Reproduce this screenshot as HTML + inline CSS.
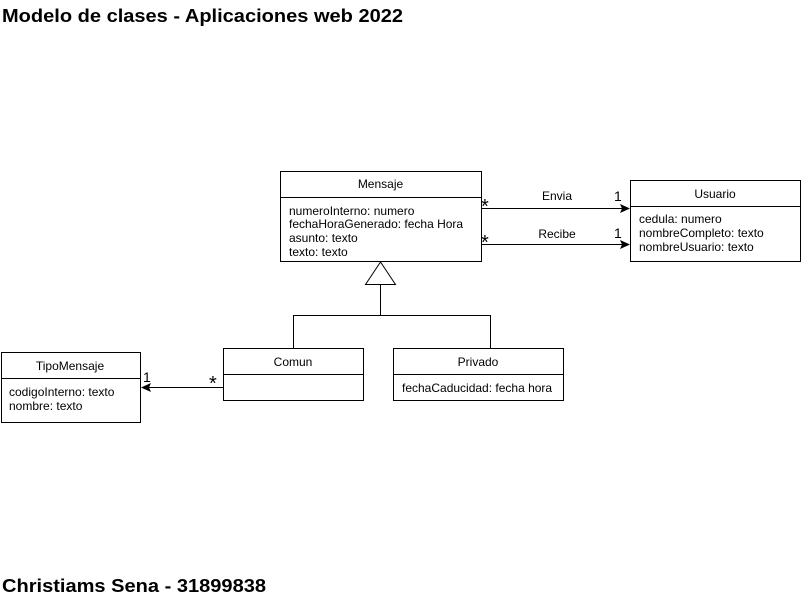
<!DOCTYPE html>
<html><head><meta charset="utf-8"><style>
html,body{margin:0;padding:0;background:#fff;width:801px;height:601px;overflow:hidden}
svg{display:block}
text{font-family:"Liberation Sans",Arial,sans-serif;fill:#000}
.s{font-size:12px}
.b{font-size:18px;font-weight:bold}
</style></head><body>
<svg width="801" height="601" viewBox="0 0 801 601">
<text class="b" x="2" y="22" textLength="401" lengthAdjust="spacingAndGlyphs">Modelo de clases - Aplicaciones web 2022</text>
<text class="b" x="2" y="592" textLength="264" lengthAdjust="spacingAndGlyphs">Christiams Sena - 31899838</text>
<g fill="#fff" stroke="#000" stroke-width="1">
<rect x="280.5" y="171.5" width="201" height="90"/>
<line x1="280" y1="197.5" x2="481" y2="197.5"/>
<rect x="630.5" y="180.5" width="170" height="81"/>
<line x1="630" y1="206.5" x2="800" y2="206.5"/>
<rect x="223.5" y="348.5" width="140" height="52"/>
<line x1="223" y1="374.5" x2="363" y2="374.5"/>
<rect x="393.5" y="348.5" width="170" height="52"/>
<line x1="393" y1="374.5" x2="563" y2="374.5"/>
<rect x="1.5" y="352.5" width="139" height="70"/>
<line x1="1" y1="378.5" x2="140" y2="378.5"/>
<polyline fill="none" points="380.5,285 380.5,315.5 293.5,315.5 293.5,348"/>
<polyline fill="none" points="380.5,315.5 490.5,315.5 490.5,348"/>
<polygon points="380.5,262 365.5,284.5 395.5,284.5"/>
<line x1="481" y1="208.5" x2="622" y2="208.5"/>
<line x1="481" y1="244.5" x2="622" y2="244.5"/>
<line x1="223" y1="387.5" x2="148" y2="387.5"/>
</g>
<polygon points="630,208.5 620,204 622,208.5 620,213"/>
<polygon points="630,244.5 620,240 622,244.5 620,249"/>
<polygon points="141,387.5 151,383 149,387.5 151,392"/>
<g class="s">
<text x="380.5" y="188" text-anchor="middle">Mensaje</text>
<text x="289" y="215">numeroInterno: numero</text>
<text x="289" y="228">fechaHoraGenerado: fecha Hora</text>
<text x="289" y="242">asunto: texto</text>
<text x="289" y="256">texto: texto</text>
<text x="715" y="198" text-anchor="middle">Usuario</text>
<text x="639" y="223">cedula: numero</text>
<text x="639" y="237">nombreCompleto: texto</text>
<text x="639" y="251">nombreUsuario: texto</text>
<text x="293" y="366" text-anchor="middle">Comun</text>
<text x="478" y="366" text-anchor="middle">Privado</text>
<text x="402" y="392">fechaCaducidad: fecha hora</text>
<text x="70" y="370" text-anchor="middle">TipoMensaje</text>
<text x="9" y="396">codigoInterno: texto</text>
<text x="9" y="410">nombre: texto</text>
<text x="557" y="200" text-anchor="middle">Envia</text>
<text x="557" y="238" text-anchor="middle">Recibe</text>
</g>
<g style="font-size:20px">
<text x="481" y="213">*</text>
<text x="481" y="249">*</text>
<text x="614" y="201" style="font-size:14px">1</text>
<text x="614" y="238" style="font-size:14px">1</text>
<text x="143" y="382" style="font-size:14px">1</text>
<text x="209" y="390">*</text>
</g>
</svg>
</body></html>
